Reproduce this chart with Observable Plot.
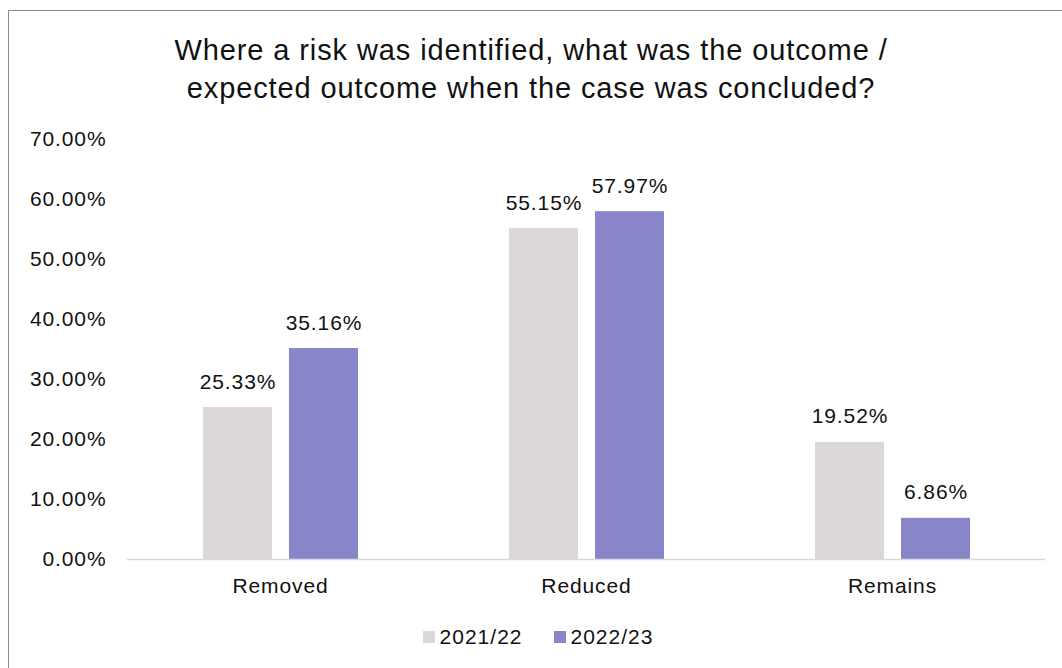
<!DOCTYPE html>
<html>
<head>
<meta charset="utf-8">
<script src="https://cdn.jsdelivr.net/npm/d3@7"></script>
<script src="https://cdn.jsdelivr.net/npm/@observablehq/plot@0.6"></script>
<style>
  html, body { margin: 0; padding: 0; background: #fff; width: 1062px; height: 668px; overflow: hidden; font-family: "Liberation Sans", Arial, sans-serif; }
  #frame { position: absolute; left: 8px; top: 10px; width: 1070px; height: 670px; border: 1px solid #8c8c8c; box-sizing: border-box; }
  #title { position: absolute; left: 0; top: 31px; width: 1062px; text-align: center; font-size: 29px; letter-spacing: 0.9px; line-height: 38px; color: #111; }
  #chart { position: absolute; left: 0; top: 120px; }
  #chart svg text { letter-spacing: 0.9px; }
  #legend { position: absolute; left: 0; top: 624px; width: 1062px; display: flex; justify-content: center; gap: 31px; font-size: 21px; letter-spacing: 1px; color: #111; line-height: 26px; padding-left: 14px; box-sizing: border-box; }
  .item { display: flex; align-items: center; gap: 5px; }
  .sw { width: 12px; height: 12px; display: inline-block; }
</style>
</head>
<body>
<div id="frame"></div>
<div id="title">Where a risk was identified, what was the outcome /<br>expected outcome when the case was concluded?</div>
<div id="chart"></div>
<div id="legend"></div>
<script>
const categories = ["Removed", "Reduced", "Remains"];
const seriesNames = ["2021/22", "2022/23"];
const values2021 = [25.33, 55.15, 19.52];
const values2022 = [35.16, 57.97, 6.86];
const yTicks = [0, 10, 20, 30, 40, 50, 60, 70];
const colors = ["#dbd7db", "#8886c8"];

const data = [];
categories.forEach((c, i) => {
  data.push({cat: c, series: seriesNames[0], value: values2021[i]});
  data.push({cat: c, series: seriesNames[1], value: values2022[i]});
});

const plot = Plot.plot({
  width: 1062,
  height: 490,
  marginTop: 19,
  marginBottom: 51,
  marginLeft: 127,
  marginRight: 17,
  style: {fontFamily: "'Liberation Sans', Arial, sans-serif", fontSize: "21px", color: "#111", background: "transparent"},
  fx: {domain: categories, padding: 0, label: null},
  x: {domain: seriesNames, paddingInner: 0.2, paddingOuter: 0.865, axis: null},
  y: {domain: [0, 70], label: null},
  color: {domain: seriesNames, range: colors},
  marks: [
    Plot.barY(data, {fx: "cat", x: "series", y: "value", fill: "series"}),
    Plot.ruleY([0], {stroke: "#d9d9d9", strokeWidth: 1.5}),
    Plot.text(data, {fx: "cat", x: "series", y: "value", text: d => d.value.toFixed(2) + "%", lineAnchor: "bottom", dy: -19, fontSize: 21, fill: "#111"}),
    Plot.axisY({ticks: yTicks, tickFormat: d => d.toFixed(2) + "%", tickSize: 0, tickPadding: 21, label: null, fontSize: 21}),
    Plot.axisFx({anchor: "bottom", tickSize: 0, tickPadding: 19, label: null, fontSize: 21})
  ]
});
document.getElementById("chart").appendChild(plot);

const legend = document.getElementById("legend");
seriesNames.forEach((s, i) => {
  const it = document.createElement("div");
  it.className = "item";
  const sw = document.createElement("span");
  sw.className = "sw";
  sw.style.background = colors[i];
  const t = document.createElement("span");
  t.textContent = s;
  it.appendChild(sw);
  it.appendChild(t);
  legend.appendChild(it);
});
</script>
</body>
</html>
